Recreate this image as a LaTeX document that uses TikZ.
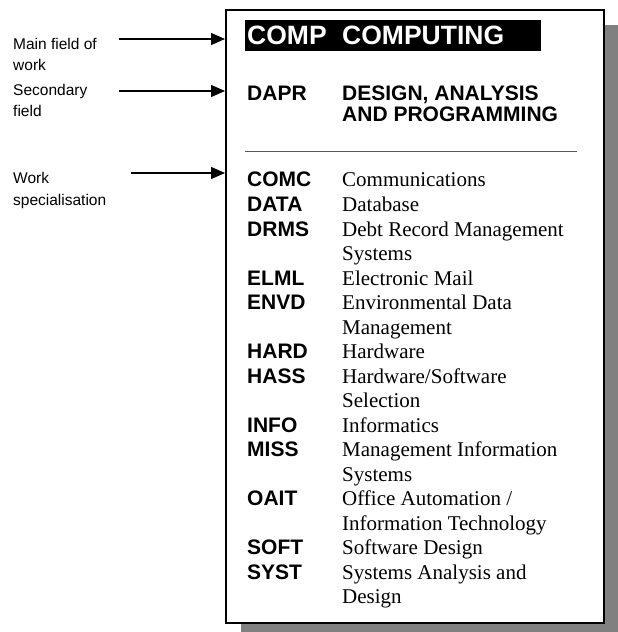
\documentclass[tikz,border=0pt]{standalone}
\usepackage{fontspec}
\setmainfont{Liberation Serif}
\setsansfont{Liberation Sans}
\usetikzlibrary{arrows.meta}

\begin{document}
\begin{tikzpicture}[x=1bp,y=-1bp,
    note/.style={anchor=base west,inner sep=0,align=left,font=\sffamily\fontsize{15.5bp}{21bp}\selectfont},
    code/.style={anchor=base west,inner sep=0,font=\sffamily\bfseries\fontsize{21bp}{21bp}\selectfont},
    head/.style={anchor=base west,inner sep=0,align=left,font=\sffamily\bfseries\fontsize{21bp}{21bp}\selectfont},
    entry/.style={anchor=base west,inner sep=0,align=left,font=\fontsize{21bp}{24.5bp}\selectfont},
    pointer/.style={-{Triangle[length=14bp,width=12bp]},line width=1.3bp}]
    
    \useasboundingbox (0,0) rectangle (618,632);
    
    %Card with shadow
    \fill[gray] (241,25) rectangle (618,640);
    \node[draw,fill=white,line width=2bp,inner sep=0,anchor=north west,
          minimum width=378bp,minimum height=613bp] (card) at (225,9) {};
    
    %Title bar
    \node[fill=black,inner sep=0,anchor=north west,minimum width=296bp,minimum height=31bp] (bar) at (245,20) {};
    \node[anchor=base west,inner sep=0,text=white,font=\sffamily\bfseries\fontsize{26.5bp}{26.5bp}\selectfont] (comp) at (247,45) {COMP};
    \node[anchor=base west,inner sep=0,text=white,font=\sffamily\bfseries\fontsize{26.5bp}{26.5bp}\selectfont] (computing) at (342,45) {COMPUTING};
    
    %Secondary field (two-line nodes sit on their last baseline)
    \node[code] (dapr) at (247,101) {DAPR};
    \node[head] (design) at (342,122) {DESIGN, ANALYSIS\\AND PROGRAMMING};
    \draw[black!65,line width=1bp] (245,152) -- (577,152);
    
    %Specialisations
    \node[code] (comc) at (247,187) {COMC};
    \node[entry] (comct) at (342,187) {Communications};
    \node[code] (data) at (247,211.5) {DATA};
    \node[entry] (datat) at (342,211.5) {Database};
    \node[code] (drms) at (247,236) {DRMS};
    \node[entry] (drmst) at (342,260.5) {Debt Record Management\\Systems};
    \node[code] (elml) at (247,285) {ELML};
    \node[entry] (elmlt) at (342,285) {Electronic Mail};
    \node[code] (envd) at (247,309.5) {ENVD};
    \node[entry] (envdt) at (342,334) {Environmental Data\\Management};
    \node[code] (hard) at (247,358.5) {HARD};
    \node[entry] (hardt) at (342,358.5) {Hardware};
    \node[code] (hass) at (247,383) {HASS};
    \node[entry] (hasst) at (342,407.5) {Hardware/Software\\Selection};
    \node[code] (info) at (247,432) {INFO};
    \node[entry] (infot) at (342,432) {Informatics};
    \node[code] (miss) at (247,456.5) {MISS};
    \node[entry] (misst) at (342,481) {Management Information\\Systems};
    \node[code] (oait) at (247,505.5) {OAIT};
    \node[entry] (oaitt) at (342,530) {Office Automation /\\Information Technology};
    \node[code] (soft) at (247,554.5) {SOFT};
    \node[entry] (softt) at (342,554.5) {Software Design};
    \node[code] (syst) at (247,579) {SYST};
    \node[entry] (systt) at (342,603.5) {Systems Analysis and\\Design};
    
    %Labels
    \node[note] (mainlbl) at (13,71) {Main field of\\work};
    \node[note] (seclbl) at (13,117) {Secondary\\field};
    \node[note] (worklbl) at (13,205) {Work\\specialisation};
    
    %Arrows
    \coordinate (mainfrom) at (119,39);
    \coordinate (secfrom) at (119,91);
    \coordinate (workfrom) at (131,173);
    \draw[pointer] (mainfrom) -- (mainfrom -| card.west);
    \draw[pointer] (secfrom) -- (secfrom -| card.west);
    \draw[pointer] (workfrom) -- (workfrom -| card.west);
    \end{tikzpicture}
\end{document}
